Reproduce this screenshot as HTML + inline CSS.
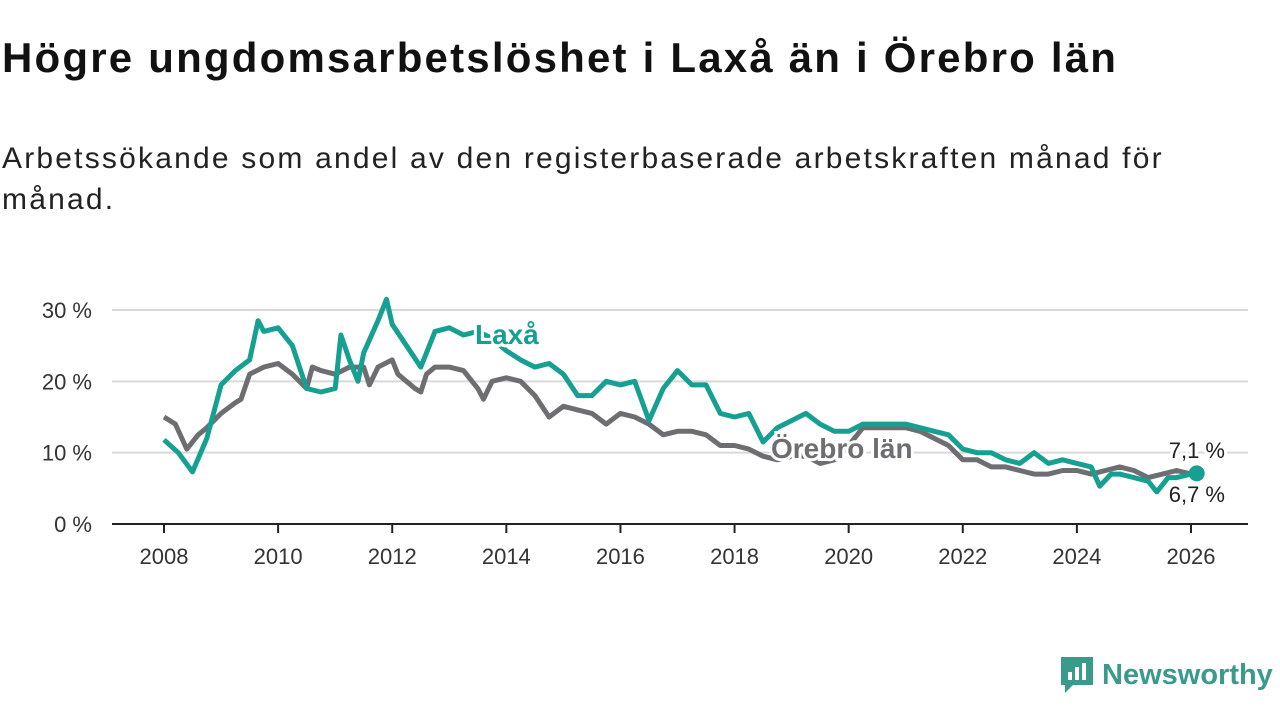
<!DOCTYPE html>
<html><head><meta charset="utf-8">
<style>
body{margin:0;width:1280px;height:720px;background:#fff;overflow:hidden;font-family:"Liberation Sans",sans-serif;}
h1{position:absolute;left:2px;top:34px;margin:0;font-size:42px;font-weight:bold;color:#111;letter-spacing:2.2px;white-space:nowrap}
p{position:absolute;left:2px;top:138px;margin:0;font-size:30px;line-height:41px;color:#222;width:1200px;letter-spacing:2.2px}
svg{position:absolute;left:0;top:0}
</style></head><body>
<h1>Högre ungdomsarbetslöshet i Laxå än i Örebro län</h1>
<p>Arbetssökande som andel av den registerbaserade arbetskraften månad för månad.</p>
<svg id="c" width="1280" height="720"></svg>
<script>
const laxaX=[2008,2008.25,2008.5,2008.75,2009,2009.25,2009.5,2009.65,2009.75,2010,2010.25,2010.5,2010.75,2011,2011.1,2011.25,2011.4,2011.5,2011.75,2011.9,2012,2012.25,2012.5,2012.75,2013,2013.25,2013.5,2013.75,2014,2014.25,2014.5,2014.75,2015,2015.25,2015.5,2015.75,2016,2016.25,2016.5,2016.75,2017,2017.25,2017.5,2017.75,2018,2018.25,2018.5,2018.75,2019,2019.25,2019.5,2019.75,2020,2020.25,2020.5,2020.75,2021,2021.25,2021.5,2021.75,2022,2022.25,2022.5,2022.75,2023,2023.25,2023.5,2023.75,2024,2024.25,2024.4,2024.6,2024.75,2025,2025.25,2025.4,2025.6,2025.75,2026,2026.1];
const laxaV=[11.8,10,7.3,12,19.5,21.5,23,28.5,27,27.5,25,19,18.5,19,26.5,23,20,24,28.5,31.5,28,25,22,27,27.5,26.5,27,26,24.3,23,22,22.5,21,18,18,20,19.5,20,14.5,19,21.5,19.5,19.5,15.5,15,15.5,11.5,13.5,14.5,15.5,14,13,13,14,14,14,14,13.5,13,12.5,10.5,10,10,9,8.5,10,8.5,9,8.5,8,5.3,7,7,6.5,6,4.5,6.5,6.5,7,7.1];
const orebroX=[2008,2008.2,2008.4,2008.6,2008.75,2009,2009.25,2009.35,2009.5,2009.75,2010,2010.25,2010.5,2010.6,2010.75,2011,2011.25,2011.5,2011.6,2011.75,2012,2012.1,2012.4,2012.5,2012.6,2012.75,2013,2013.25,2013.5,2013.6,2013.75,2014,2014.25,2014.5,2014.75,2015,2015.25,2015.5,2015.75,2016,2016.25,2016.5,2016.75,2017,2017.25,2017.5,2017.75,2018,2018.25,2018.5,2018.75,2019,2019.25,2019.5,2019.75,2020,2020.25,2020.5,2020.75,2021,2021.25,2021.5,2021.75,2022,2022.25,2022.5,2022.75,2023,2023.25,2023.5,2023.75,2024,2024.25,2024.5,2024.75,2025,2025.25,2025.5,2025.75,2026,2026.1];
const orebroV=[15,14,10.5,12.5,13.5,15.5,17,17.5,21,22,22.5,21,19,22,21.5,21,22,22,19.5,22,23,21,19,18.5,21,22,22,21.5,19,17.5,20,20.5,20,18,15,16.5,16,15.5,14,15.5,15,14,12.5,13,13,12.5,11,11,10.5,9.5,9,9.5,9.5,8.5,9,11,13.5,13.5,13.5,13.5,13,12,11,9,9,8,8,7.5,7,7,7.5,7.5,7,7.5,8,7.5,6.5,7,7.5,7,6.7];
const xTicks=[2008,2010,2012,2014,2016,2018,2020,2022,2024,2026];
const yTicks=[0,10,20,30];
const yTickLabels=["0 %","10 %","20 %","30 %"];

const NS="http://www.w3.org/2000/svg",svg=document.getElementById('c');
const X=v=>164+(v-2008)*(1191-164)/18, Y=v=>524-v*(524-310)/30;
function mk(t,a,p){const e=document.createElementNS(NS,t);for(const k in a)e.setAttribute(k,a[k]);(p||svg).appendChild(e);return e;}
yTicks.forEach((t,i)=>{
  if(t>0){const g=mk('line',{x1:112,x2:1248,y1:Y(t),y2:Y(t),stroke:'#d9d9d9','stroke-width':2});
  
  }
  const l=mk('text',{x:92,y:Y(t)+8,'text-anchor':'end','font-size':22,fill:'#333'});l.textContent=yTickLabels[i];
  
  
});
xTicks.forEach(t=>{
  const k=mk('line',{x1:X(t),x2:X(t),y1:524,y2:533,stroke:'#222','stroke-width':2});
  
  
  const l=mk('text',{x:X(t),y:564,'text-anchor':'middle','font-size':22,fill:'#333'});l.textContent=t;
  
  
});
const ax=mk('line',{x1:112,x2:1248,y1:524,y2:524,stroke:'#222','stroke-width':2});


function line(xs,vs,col,name){
  const p=mk('path',{d:xs.map((x,i)=>(i?'L':'M')+X(x).toFixed(1)+','+Y(vs[i]).toFixed(1)).join(''),fill:'none',stroke:col,'stroke-width':5,'stroke-linejoin':'round'});
  
  
}
line(orebroX,orebroV,'#6e6d72','orebro-line');
line(laxaX,laxaV,'#16a091','laxa-line');
const d=mk('circle',{cx:X(laxaX[laxaX.length-1]),cy:Y(laxaV[laxaV.length-1]),r:8,fill:'#16a091'});


function lab(x,y,txt,col,name,bold,anchor){
  const t=mk('text',{x:x,y:y,'font-size':bold?28:22,'font-weight':bold?'bold':'normal',fill:col,stroke:'#fff','stroke-width':6,'paint-order':'stroke','text-anchor':anchor||'start'});
  t.textContent=txt;
  
  
}
lab(475,344,'Laxå','#16a091','laxa-label',true);
lab(771,458,'Örebro län','#6e6d72','orebro-label',true);
lab(1225,458,'7,1 %','#222','laxa-end-value',false,'end');
lab(1225,502,'6,7 %','#222','orebro-end-value',false,'end');
</script>
<div style="position:absolute;left:1059px;top:655px;height:40px;display:flex;align-items:center">
<svg width="36" height="40" style="position:static"><path d="M2 2h32v28H14l-8 8v-8H2z" fill="#3a9a8c"/><rect x="9" y="17" width="4" height="8" fill="#fff"/><rect x="16" y="12" width="4" height="13" fill="#fff"/><rect x="23" y="8" width="4" height="17" fill="#fff"/></svg>
<span style="font-size:29px;color:#3a9a8c;margin-left:7px;font-weight:bold">Newsworthy</span></div>
</body></html>
